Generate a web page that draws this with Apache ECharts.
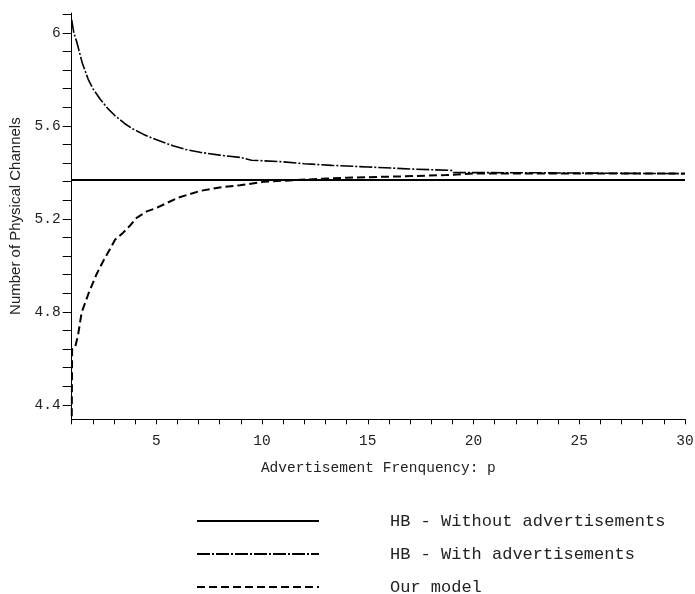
<!DOCTYPE html>
<html>
<head>
<meta charset="utf-8">
<script src="https://cdn.jsdelivr.net/npm/echarts@6/dist/echarts.min.js"></script>
<style>
html,body{margin:0;padding:0;background:#fff;}
#chart{width:695px;height:594px;}
</style>
</head>
<body>
<div id="chart"></div>
<script>
// ---- data ----
var seriesNames = ['HB - Without advertisements', 'HB - With advertisements', 'Our model'];

var hbWithoutAds = [[1, 5.367], [30, 5.367]];

var hbWithAds = [
  [1, 6.055], [1.1, 6.0], [1.24, 5.96], [1.5, 5.87], [1.78, 5.80], [2.0, 5.76],
  [2.34, 5.715], [2.7, 5.675], [3.05, 5.643], [3.5, 5.61], [3.9, 5.586],
  [4.4, 5.563], [4.84, 5.546], [5.3, 5.53], [5.79, 5.514], [6.4, 5.498],
  [7.07, 5.486], [8.0, 5.474], [8.96, 5.464], [9.5, 5.452], [9.55, 5.447],
  [10.85, 5.446], [10.9, 5.438], [12.0, 5.437], [12.05, 5.431], [13.3, 5.430],
  [13.35, 5.424], [15.0, 5.423], [15.05, 5.415], [17.1, 5.414], [17.15, 5.409],
  [19.0, 5.408], [19.05, 5.399], [22.9, 5.398], [22.95, 5.394], [30, 5.394]
];

var ourModel = [
  [1, 4.30], [1.02, 4.64], [1.16, 4.647], [1.3, 4.70], [1.47, 4.797],
  [1.8, 4.88], [2.18, 4.963], [2.5, 5.02], [2.81, 5.07], [3.05, 5.11],
  [3.43, 5.14], [3.75, 5.17], [4.07, 5.204], [4.55, 5.232], [5.02, 5.247],
  [6.0, 5.29], [7.07, 5.32], [8.0, 5.335], [8.96, 5.344], [10.06, 5.359],
  [11.64, 5.367], [14.0, 5.377], [16.4, 5.382], [18.7, 5.388], [20.0, 5.395],
  [30, 5.395]
];

var xLabelValues = [5, 10, 15, 20, 25, 30];
var yLabelValues = [4.4, 4.8, 5.2, 5.6, 6.0];
var yTickValues = [4.40, 4.48, 4.56, 4.64, 4.72, 4.80, 4.88, 4.96, 5.04, 5.12, 5.20,
  5.28, 5.36, 5.44, 5.52, 5.60, 5.68, 5.76, 5.84, 5.92, 6.00, 6.08];

// ---- chart ----
var chart = echarts.init(document.getElementById('chart'));
var mono = 'Liberation Mono, Courier New, monospace';
chart.setOption({
  animation: false,
  backgroundColor: '#fff',
  grid: {left: 71.7, right: 10, top: 13, bottom: 174.7, containLabel: false, outerBoundsMode: 'none'},
  legend: {
    orient: 'vertical',
    left: 196,
    top: 512.5,
    height: 100,
    padding: 0,
    itemWidth: 122,
    itemHeight: 12,
    itemGap: 16,
    data: seriesNames,
    itemStyle: {opacity: 0},
    textStyle: {fontFamily: mono, fontSize: 17, color: '#222', padding: [0, 0, 0, 66]}
  },
  xAxis: {
    type: 'value',
    min: 1, max: 30, interval: 1,
    name: 'Advertisement Frenquency: p',
    nameLocation: 'middle',
    nameGap: 41,
    nameTextStyle: {fontFamily: mono, fontSize: 14.5, color: '#222'},
    axisLine: {show: true, onZero: false, lineStyle: {color: '#000', width: 1}},
    axisTick: {show: true, length: 5, lineStyle: {color: '#000'}},
    axisLabel: {customValues: xLabelValues, fontFamily: mono, fontSize: 14.5, color: '#222', margin: 14},
    splitLine: {show: false}
  },
  yAxis: {
    type: 'value',
    min: 4.338, max: 6.085,
    name: 'Number of Physical Channels',
    nameLocation: 'middle',
    nameGap: 47,
    nameRotate: 90,
    nameTextStyle: {fontFamily: 'Liberation Sans, Arial, sans-serif', fontSize: 15, color: '#222'},
    axisLine: {show: true, onZero: false, lineStyle: {color: '#000', width: 1}},
    axisTick: {show: true, length: 9, customValues: yTickValues, lineStyle: {color: '#000'}},
    axisLabel: {customValues: yLabelValues, fontFamily: mono, fontSize: 14.5, color: '#222', margin: 11,
      formatter: function (v) { return (Math.round(v * 10) / 10).toFixed(v % 1 === 0 ? 0 : 1); }},
    splitLine: {show: false}
  },
  series: [
    {
      name: seriesNames[0], type: 'line', data: hbWithoutAds, symbol: 'none', clip: true,
      lineStyle: {color: '#000', width: 2, type: 'solid'}, itemStyle: {color: '#000'}
    },
    {
      name: seriesNames[1], type: 'line', data: hbWithAds, symbol: 'none', clip: true,
      lineStyle: {color: '#000', width: 1.6, type: [13, 2, 2, 2]}, itemStyle: {color: '#000'}
    },
    {
      name: seriesNames[2], type: 'line', data: ourModel, symbol: 'none', clip: true,
      lineStyle: {color: '#000', width: 2, type: [8, 4]}, itemStyle: {color: '#000'}
    }
  ]
});
</script>
</body>
</html>
